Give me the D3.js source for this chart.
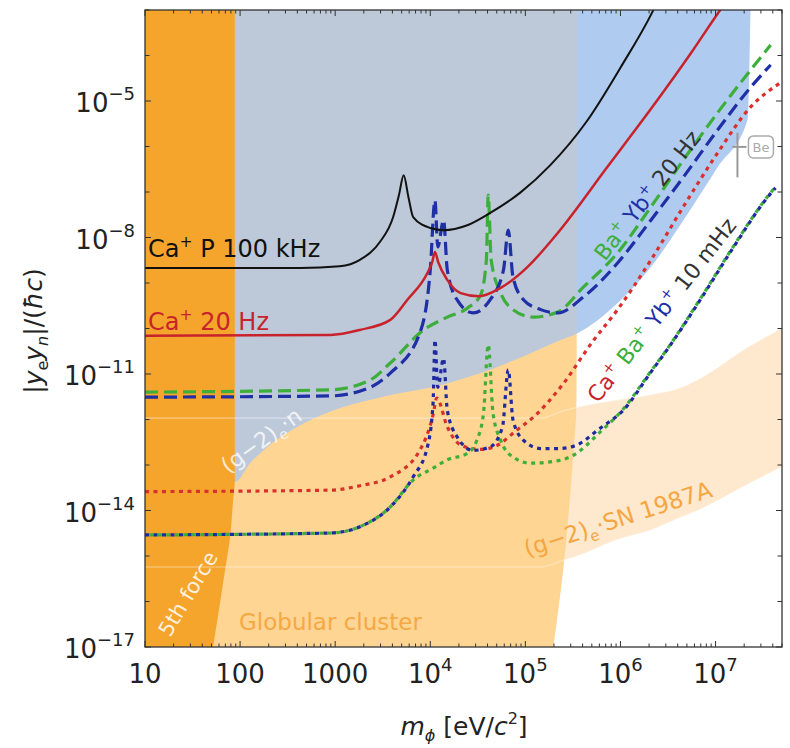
<!DOCTYPE html>
<html><head><meta charset="utf-8">
<script src="https://cdn.jsdelivr.net/npm/d3@7"></script>
<style>body{margin:0;background:#fff;} svg{display:block;font-family:"DejaVu Sans",sans-serif;}</style>
</head><body><svg id="c" width="790" height="748"></svg>
<script>
// ---------- tick labels ----------
const xTickValues = [10, 100, 1000, 1e4, 1e5, 1e6, 1e7];
const xTickLabels = [["10",""],["100",""],["1000",""],["10","4"],["10","5"],["10","6"],["10","7"]];
const yTickValues = [1e-5, 1e-8, 1e-11, 1e-14, 1e-17];
const yTickLabels = [["10","\u22125"],["10","\u22128"],["10","\u221211"],["10","\u221214"],["10","\u221217"]];

// ---------- excluded regions ----------
const fifthForceEdge = [[88,1e-3],[88,4.7e-14],[84,1.45e-14],[78.5,2.6e-15],[69.5,4.9e-16],[61.5,9.3e-17],[52,1e-17]];
const globularEdge = [[3.52e5,1e-3],[3.45e5,2.7e-12],[3.1e5,7.8e-14],[2.5e5,4.9e-16],[1.97e5,1e-17]];
const g2nMass  = [10, 88.5, 127, 192, 429, 953, 2980, 1.51e4, 3.36e4, 7.5e4, 2.33e5, 3.52e5, 9.3e5, 2.07e6, 4.6e6, 1.05e7, 2.17e7, 2.33e7];
const g2nLower = [4.3e-14, 4.3e-14, 1.1e-13, 2.5e-13, 7.6e-13, 1.6e-12, 3.1e-12, 6.3e-12, 1.05e-11, 2.0e-11, 5.6e-11, 7.9e-11, 3.6e-10, 2.2e-9, 2.4e-8, 3.5e-7, 3.8e-6, 1e-3];
const snMass  = [10, 1.45e5, 2.5e5, 3.52e5, 9.3e5, 2.07e6, 4.4e6, 6.95e6, 2.2e7, 5e7];
const snUpper = [1.07e-12, 1.07e-12, 1.55e-12, 1.86e-12, 2.7e-12, 3.5e-12, 5.1e-12, 8.1e-12, 3.9e-11, 1.02e-10];
const snLower = [5.75e-16, 5.75e-16, 8.1e-16, 1.0e-15, 2.3e-15, 3.7e-15, 7.2e-15, 1.07e-14, 3.8e-14, 9.1e-14];

// ---------- sensitivity curves [mass eV/c^2, |ye yn|/(hbar c)] ----------
const caP100kHz = [[10,2.14e-9],[430,2.14e-9],[1120,2.34e-9],[1820,3.24e-9],[2950,7.94e-9],[4070,2.82e-8],[4680,8.5e-8],[5250,2.34e-7],[5890,7.8e-8],[6610,2.82e-8],[1e4,1.62e-8],[1.38e4,1.45e-8],[2.45e4,1.86e-8],[4.27e4,3.47e-8],[8.91e4,9.8e-8],[1.83e5,3.9e-7],[4.39e5,3.5e-6],[1e6,5.4e-5],[2.17e6,9.1e-4],[2.6e6,2.0e-3]];
const ca20Hz = [[10,6.9e-11],[891,7.2e-11],[1820,9.3e-11],[3800,1.55e-10],[5750,4.3e-10],[9330,1.66e-9],[1.05e4,2.9e-9],[1.12e4,4.8e-9],[1.21e4,2.9e-9],[1.51e4,1.17e-9],[2.09e4,6.0e-10],[3.24e4,5.1e-10],[5.5e4,7.8e-10],[1.05e5,2.24e-9],[2.19e5,1.26e-8],[7.24e5,3.5e-7],[2.45e6,1.05e-5],[5.5e6,1.12e-4],[1.12e7,1e-3],[1.62e7,2.9e-3]];
const ba20Hz = [[10,4.0e-12],[891,4.5e-12],[2340,7.4e-12],[3800,1.74e-11],[8510,9.3e-11],[1.51e4,1.78e-10],[2.45e4,2.8e-10],[3.39e4,5.5e-10],[3.89e4,3.2e-9],[4.07e4,8.5e-8],[4.37e4,3.2e-9],[5.5e4,6.0e-10],[7.41e4,2.6e-10],[1.2e5,1.78e-10],[2.19e5,2.3e-10],[4.07e5,8.1e-10],[9.33e5,4.6e-9],[2.09e6,4.7e-8],[4.57e6,5.0e-7],[1.05e7,5.5e-6],[2.34e7,4.8e-5],[3.8e7,1.7e-4]];
const yb20Hz = [[10,3.1e-12],[891,3.3e-12],[2340,5.1e-12],[3800,1.05e-11],[7760,7.9e-11],[1e4,1.95e-9],[1.12e4,6.6e-8],[1.2e4,6.2e-9],[1.38e4,2.4e-8],[1.51e4,1.95e-9],[1.91e4,4.3e-10],[2.82e4,2.2e-10],[4.27e4,4.3e-10],[5.89e4,1.95e-9],[6.61e4,1.45e-8],[7.41e4,1.35e-9],[9.55e4,4.3e-10],[1.45e5,2.6e-10],[2.19e5,2.2e-10],[4.07e5,4.9e-10],[9.33e5,2.75e-9],[2.09e6,2.4e-8],[4.57e6,2.1e-7],[1.05e7,2.3e-6],[2.34e7,2.0e-5],[3.8e7,6.2e-5]];
const ca10mHz = [[10,2.6e-14],[891,2.8e-14],[1820,3.5e-14],[3800,5.5e-14],[7760,2.1e-13],[1.07e4,1.26e-12],[1.17e4,2.95e-12],[1.51e4,6.9e-13],[2.09e4,2.75e-13],[3.39e4,2.2e-13],[5.13e4,2.75e-13],[7.76e4,5.4e-13],[1.29e5,1.26e-12],[2.34e5,5.1e-12],[5.25e5,5.6e-11],[9.33e5,2.6e-10],[2.09e6,3.2e-9],[4.57e6,4.7e-8],[1.05e7,7.2e-7],[2.34e7,7.4e-6],[4.79e7,2.5e-5]];
const ba10mHz = [[10,2.9e-15],[891,3.2e-15],[1820,4.4e-15],[3800,1.2e-14],[6610,4.7e-14],[1.07e4,8.5e-14],[1.51e4,1.3e-13],[2.45e4,1.8e-13],[3.09e4,3.5e-13],[3.63e4,1.38e-12],[4.07e4,4.4e-11],[4.57e4,1.38e-12],[5.5e4,3.5e-13],[7.41e4,1.5e-13],[1.12e5,1.1e-13],[1.82e5,1.17e-13],[3.24e5,1.66e-13],[6.17e5,5.4e-13],[1.07e6,1.7e-12],[2.09e6,1.15e-11],[3.09e6,3.5e-11],[6.92e6,4.5e-10],[1.55e7,6.5e-9],[3.55e7,8.1e-8],[4.27e7,1.3e-7]];
const yb10mHz = [[10,2.9e-15],[891,3.2e-15],[1820,4.4e-15],[3800,1.2e-14],[6610,5.5e-14],[9330,2.5e-13],[1.07e4,2.3e-12],[1.12e4,5.6e-11],[1.2e4,5.1e-12],[1.38e4,2.2e-11],[1.51e4,1.6e-12],[1.91e4,4.2e-13],[2.82e4,2.1e-13],[4.27e4,2.5e-13],[5.75e4,6.9e-13],[6.61e4,1.23e-11],[7.41e4,9.8e-13],[9.55e4,3.5e-13],[1.45e5,2.3e-13],[2.19e5,2.3e-13],[3.24e5,2.6e-13],[6.17e5,6.5e-13],[1.07e6,1.6e-12],[2.09e6,1.1e-11],[3.09e6,3.4e-11],[6.92e6,4.3e-10],[1.55e7,6.2e-9],[3.55e7,7.8e-8],[4.27e7,1.23e-7]];

// ---------- setup ----------
const svg = d3.select("#c");
const x = d3.scaleLog().domain([10, 5e7]).range([145, 782]);
const y = d3.scaleLog().domain([1e-17, 1e-3]).range([647, 10]);
const [X0, X1] = x.range(), [Y1, Y0] = y.range();

const defs = svg.append("defs");
defs.append("clipPath").attr("id","plot").append("rect")
  .attr("x",X0).attr("y",Y0).attr("width",X1-X0).attr("height",Y1-Y0);

const lineMX = d3.line().x(d=>x(d[0])).y(d=>y(d[1])).curve(d3.curveMonotoneX);
const lineMY = d3.line().x(d=>x(d[0])).y(d=>y(d[1])).curve(d3.curveMonotoneY);

const G = svg.append("g").attr("clip-path","url(#plot)");

// SN 1987A band
const snData = snMass.map((m,i)=>({m, lo:snLower[i], hi:snUpper[i]}));
const snArea = d3.area().x(d=>x(d.m)).y0(d=>y(d.lo)).y1(d=>y(d.hi)).curve(d3.curveMonotoneX);
G.append("path").attr("d", snArea(snData)).attr("fill","#FEE8CE");

// globular cluster
const globPath = "M"+x(10)+","+y(1e-3)+"L"+lineMY(globularEdge).slice(1)+"L"+x(10)+","+y(1e-17)+"Z";
G.append("path").attr("d", globPath).attr("fill","#FFD593");
defs.append("clipPath").attr("id","globclip").append("path").attr("d", globPath);

// (g-2)e . n
const g2nData = g2nMass.map((m,i)=>({m, lo:g2nLower[i]}));
const g2nArea = d3.area().x(d=>x(d.m)).y0(()=>y(1e-3)-2).y1(d=>y(d.lo)).curve(d3.curveMonotoneX);
G.append("path").attr("d", g2nArea(g2nData)).attr("fill","#AFCBEF");
G.append("g").attr("clip-path","url(#globclip)")
  .append("path").attr("d", g2nArea(g2nData)).attr("fill","#BDC9D8");

// 5th force
const ffPath = "M"+x(10)+","+y(1e-3)+"L"+lineMY(fifthForceEdge).slice(1)+"L"+x(10)+","+y(1e-17)+"Z";
G.append("path").attr("d", ffPath).attr("fill","#F5A52B");

// SN band faint edges
const lineEdge = d3.line().x(d=>x(d.m)).curve(d3.curveMonotoneX);
G.append("path").attr("d", lineEdge.y(d=>y(d.hi))(snData)).attr("fill","none").attr("stroke","#fff").attr("stroke-opacity",0.3).attr("stroke-width",1.6);
G.append("path").attr("d", lineEdge.y(d=>y(d.lo))(snData)).attr("fill","none").attr("stroke","#fff").attr("stroke-opacity",0.3).attr("stroke-width",1.6);

// Be marker
const beX = x(1.7e7);
G.append("line").attr("x1",beX).attr("x2",beX).attr("y1",y(2.0e-6)).attr("y2",y(2.1e-7)).attr("stroke","#999").attr("stroke-width",2);
G.append("line").attr("x1",beX-5).attr("x2",beX+9).attr("y1",y(9.8e-7)).attr("y2",y(9.8e-7)).attr("stroke","#999").attr("stroke-width",2);
G.append("rect").attr("x",beX+11).attr("y",y(9.8e-7)-11).attr("width",25).attr("height",22).attr("rx",5)
  .attr("fill","#fff").attr("stroke","#aaa").attr("stroke-width",1.5);
G.append("text").attr("x",beX+23.5).attr("y",y(9.8e-7)+5).attr("text-anchor","middle")
  .attr("font-size",13).attr("fill","#aaa").text("Be");

// curves
const curves = [
  {d:ca10mHz, c:"#D9302E", w:3.2, da:"4,4.5", off:0},
  {d:ba10mHz, c:"#3DAE3A", w:3.2, da:"4,4.5", off:4.2},
  {d:yb10mHz, c:"#1F2A9E", w:3.2, da:"4,4.5", off:0},
  {d:ba20Hz,  c:"#3DAE3A", w:3.2, da:"13,6", off:0},
  {d:yb20Hz,  c:"#1F2FA6", w:3.2, da:"13,6", off:0},
  {d:ca20Hz,  c:"#C8232C", w:2.5, da:null, off:0},
  {d:caP100kHz, c:"#111", w:2, da:null, off:0}
];
curves.forEach(s=>{
  const p = G.append("path").attr("d", lineMX(s.d)).attr("fill","none")
    .attr("stroke", s.c).attr("stroke-width", s.w);
  if (s.da) p.attr("stroke-dasharray", s.da).attr("stroke-dashoffset", s.off);
});

// ---------- region / curve labels ----------
function rotText(px, py, ang, size, parts){
  const t = svg.append("text").attr("transform",`translate(${px},${py}) rotate(${ang})`).attr("font-size",size);
  parts.forEach(p=>{
    const ts = t.append("tspan").text(p.t).attr("fill", p.c);
    if (p.sup){ ts.attr("font-size", size*0.65).attr("dy", -size*0.42); }
    if (p.sub){ ts.attr("font-size", size*0.65).attr("dy", size*0.25); }
    if (p.back) ts.attr("dy", p.back);
    if (p.o) ts.attr("fill-opacity", p.o);
  });
  return t;
}
rotText(148, 257, 0, 24, [{t:"Ca",c:"#111"},{t:"+",c:"#111",sup:1},{t:" P 100 kHz",c:"#111",back:24*0.42}]);
rotText(148, 330, 0, 24, [{t:"Ca",c:"#C8232C"},{t:"+",c:"#C8232C",sup:1},{t:" 20 Hz",c:"#C8232C",back:24*0.42}]);
rotText(228, 474, -36, 22, [{t:"(g\u22122)",c:"#fff",o:0.8},{t:"e",c:"#fff",o:0.8,sub:1},{t:"\u00b7n",c:"#fff",o:0.8,back:-22*0.25}]);
rotText(170, 638, -59, 21, [{t:"5th force",c:"#fff",o:0.85}]);
rotText(239, 630, 0, 23, [{t:"Globular cluster",c:"#F6A843"}]);
rotText(527, 557, -18, 23, [{t:"(g\u22122)",c:"#F5A640"},{t:"e",c:"#F5A640",sub:1},{t:"\u00b7SN 1987A",c:"#F5A640",back:-23*0.25}]);
rotText(605, 262, -52, 22, [{t:"Ba",c:"#3DAE3A"},{t:"+",c:"#3DAE3A",sup:1},{t:" Yb",c:"#1F2FA6",back:22*0.42},{t:"+",c:"#1F2FA6",sup:1},{t:" 20 Hz",c:"#333",back:22*0.42}]);
rotText(598, 404, -52, 22, [{t:"Ca",c:"#C8232C"},{t:"+",c:"#C8232C",sup:1},{t:" Ba",c:"#3DAE3A",back:22*0.42},{t:"+",c:"#3DAE3A",sup:1},{t:" Yb",c:"#1F2FA6",back:22*0.42},{t:"+",c:"#1F2FA6",sup:1},{t:" 10 mHz",c:"#333",back:22*0.42}]);

// ---------- axes ----------
const ax = svg.append("g").attr("stroke","#333").attr("stroke-width",1);
x.ticks().filter(v=>v>=10 && v<=5e7).forEach(v=>{
  const major = Math.abs(Math.log10(v)-Math.round(Math.log10(v)))<1e-9;
  const L = major?6:3.5;
  ax.append("line").attr("x1",x(v)).attr("x2",x(v)).attr("y1",Y1).attr("y2",Y1-L);
  ax.append("line").attr("x1",x(v)).attr("x2",x(v)).attr("y1",Y0).attr("y2",Y0+L);
});
d3.range(-17,-2).forEach(e=>{
  const v = Math.pow(10,e);
  const L = (e%3===1 || e%3===-2)?6:4.5;
  ax.append("line").attr("x1",X0).attr("x2",X0+L).attr("y1",y(v)).attr("y2",y(v));
  ax.append("line").attr("x1",X1).attr("x2",X1-L).attr("y1",y(v)).attr("y2",y(v));
});
svg.append("rect").attr("x",X0).attr("y",Y0).attr("width",X1-X0).attr("height",Y1-Y0)
  .attr("fill","none").attr("stroke","#333").attr("stroke-width",1.3);

xTickValues.forEach((v,i)=>{
  const t = svg.append("text").attr("x",x(v)).attr("y",683).attr("text-anchor","middle")
    .attr("font-size",26).attr("fill","#222");
  t.append("tspan").text(xTickLabels[i][0]);
  if (xTickLabels[i][1]) t.append("tspan").text(xTickLabels[i][1]).attr("font-size",18).attr("dy",-12);
});
yTickValues.forEach((v,i)=>{
  const t = svg.append("text").attr("x",135).attr("y",y(v)+11).attr("text-anchor","end")
    .attr("font-size",26).attr("fill","#222");
  t.append("tspan").text(yTickLabels[i][0]);
  t.append("tspan").text(yTickLabels[i][1]).attr("font-size",18).attr("dy",-12);
});

// axis titles
const xt = svg.append("text").attr("x",464).attr("y",735).attr("text-anchor","middle").attr("font-size",25).attr("fill","#222");
xt.append("tspan").text("m").attr("font-style","italic");
xt.append("tspan").text("\u03d5").attr("font-size",16).attr("dy",6).attr("font-style","italic");
xt.append("tspan").text(" [eV/").attr("dy",-6);
xt.append("tspan").text("c").attr("font-style","italic");
xt.append("tspan").text("2").attr("font-size",16).attr("dy",-11);
xt.append("tspan").text("]").attr("dy",11);

const yt = svg.append("text").attr("transform","translate(42,331) rotate(-90)").attr("text-anchor","middle").attr("font-size",25).attr("fill","#222");
yt.append("tspan").text("|");
yt.append("tspan").text("y").attr("font-style","italic");
yt.append("tspan").text("e").attr("font-size",16).attr("dy",6);
yt.append("tspan").text("y").attr("font-style","italic").attr("dy",-6);
yt.append("tspan").text("n").attr("font-size",16).attr("dy",6).attr("font-style","italic");
yt.append("tspan").text("|/(").attr("dy",-6);
yt.append("tspan").text("\u0127c").attr("font-style","italic");
yt.append("tspan").text(")");
</script></body></html>
